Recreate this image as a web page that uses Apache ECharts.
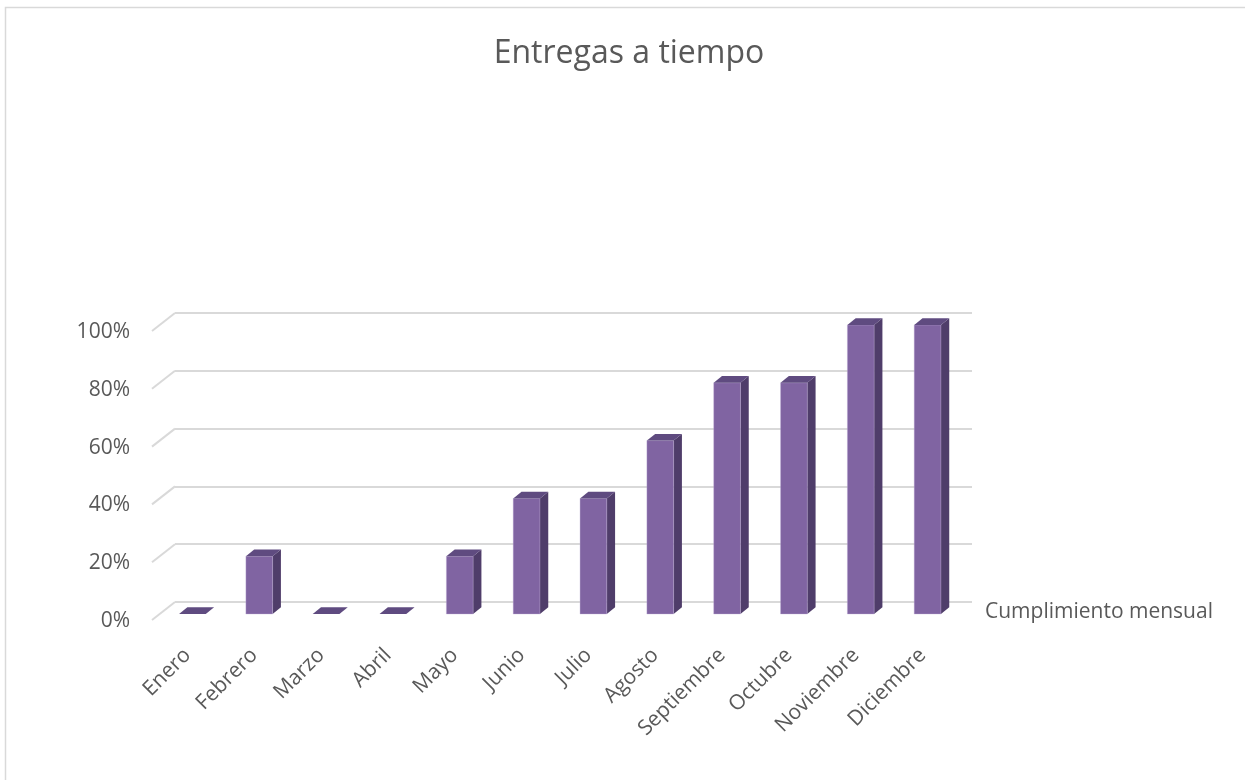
<!DOCTYPE html>
<html>
<head>
<meta charset="utf-8">
<script src="https://cdn.jsdelivr.net/npm/echarts@6/dist/echarts.min.js"></script>
<style>
  html, body { margin: 0; padding: 0; background: #ffffff; }
  #chart { width: 1245px; height: 780px; }
</style>
</head>
<body>
<div id="chart"></div>
<script>
// Monthly on-time delivery rate (%)
const months = ['Enero', 'Febrero', 'Marzo', 'Abril', 'Mayo', 'Junio', 'Julio',
                'Agosto', 'Septiembre', 'Octubre', 'Noviembre', 'Diciembre'];
const cumplimiento = [0, 20, 0, 0, 20, 40, 40, 60, 80, 80, 100, 100];
const yTicks = [0, 20, 40, 60, 80, 100];
const seriesName = 'Cumplimiento mensual';
const chartTitle = 'Entregas a tiempo';

const FONT = 'Open Sans';
const TEXT = '#595959';
const GRID_LINE = '#d9d9d9';
const FRONT = '#8064a2';
const SIDE = '#4f3d6a';
const TOP = '#5f4b80';
// depth of the 3D box and floor
const DEPTH_X = 8.3, DEPTH_Y = 6.7;
const FLOOR_X = -23, FLOOR_Y = 18;

const chart = echarts.init(document.getElementById('chart'), null, { renderer: 'canvas' });

function renderBox(params, api) {
  const i = api.value(0);
  const v = api.value(1);
  const top = api.coord([i, v]);
  const base = api.coord([i, 0]);
  const w = api.size([1, 0])[0] * 0.4;
  const x0 = top[0] - w / 2, x1 = top[0] + w / 2;
  const yt = top[1], yb = base[1];
  const children = [];
  if (yb - yt > 0.5) {
    children.push({
      type: 'polygon',
      shape: { points: [[x1, yt], [x1 + DEPTH_X, yt - DEPTH_Y], [x1 + DEPTH_X, yb - DEPTH_Y], [x1, yb]] },
      style: { fill: SIDE }
    });
    children.push({
      type: 'rect',
      shape: { x: x0, y: yt, width: w, height: yb - yt },
      style: { fill: FRONT, stroke: 'rgba(190,175,215,0.6)', lineWidth: 0.6 }
    });
  }
  children.push({
    type: 'polygon',
    shape: { points: [[x0, yt], [x0 + DEPTH_X, yt - DEPTH_Y], [x1 + DEPTH_X, yt - DEPTH_Y], [x1, yt]] },
    style: { fill: TOP }
  });
  return { type: 'group', children };
}

function renderFloorEdge(params, api) {
  const v = api.value(0);
  const p = api.coord([0, v]);
  const half = api.size([1, 0])[0] / 2;
  const x = p[0] - half, y = p[1];
  return {
    type: 'line',
    shape: { x1: x, y1: y, x2: x + FLOOR_X, y2: y + FLOOR_Y },
    style: { stroke: GRID_LINE, lineWidth: 2 }
  };
}

const option = {
  backgroundColor: '#ffffff',
  animation: false,
  title: {
    text: chartTitle,
    left: 624, top: 33, textAlign: 'center',
    textStyle: { fontFamily: FONT, fontSize: 32, fontWeight: 'normal', color: TEXT }
  },
  graphic: [
    {
      type: 'rect', silent: true, z: -10,
      shape: { x: 5.5, y: 7.5, width: 1300, height: 900 },
      style: { fill: 'none', stroke: '#d9d9d9', lineWidth: 1.5 }
    },
    {
      type: 'text', left: 985, top: 602,
      style: { text: seriesName, fontFamily: FONT, fontSize: 21, fill: TEXT }
    }
  ],
  grid: [
    // back wall
    { left: 175, width: 797, top: 313, height: 289 },
    // front of the boxes
    { left: 159, width: 802, top: 325, height: 289 },
    // front edge of the floor, carries the value labels
    { left: 152, width: 802, top: 332, height: 289 }
  ],
  xAxis: [
    { gridIndex: 0, type: 'category', data: months, show: false },
    {
      gridIndex: 1, type: 'category', data: months,
      axisLine: { show: false }, axisTick: { show: false },
      axisLabel: {
        rotate: 45, margin: 33, interval: 0, padding: [0, 7, 0, 0],
        fontFamily: FONT, fontSize: 21, color: TEXT
      }
    },
    { gridIndex: 2, type: 'category', data: months, show: false }
  ],
  yAxis: [
    {
      gridIndex: 0, type: 'value', min: 0, max: 100, interval: 20,
      axisLine: { show: false }, axisTick: { show: false }, axisLabel: { show: false },
      splitLine: { lineStyle: { color: GRID_LINE, width: 2 } }
    },
    {
      gridIndex: 1, type: 'value', min: 0, max: 100, interval: 20, show: false,
      splitLine: { show: false }
    },
    {
      gridIndex: 2, type: 'value', min: 0, max: 100, interval: 20,
      axisLine: { show: false }, axisTick: { show: false }, splitLine: { show: false },
      axisLabel: { margin: 22, fontFamily: FONT, fontSize: 21, color: TEXT, formatter: '{value}%' }
    }
  ],
  series: [
    {
      type: 'custom', name: 'floor', xAxisIndex: 0, yAxisIndex: 0,
      data: yTicks.map(v => [v]), renderItem: renderFloorEdge, silent: true, z: 1
    },
    {
      type: 'custom', name: seriesName, xAxisIndex: 1, yAxisIndex: 1,
      data: cumplimiento.map((v, i) => [i, v]), renderItem: renderBox, z: 5,
      encode: { x: 0, y: 1 }
    }
  ]
};

chart.setOption(option);
</script>
</body>
</html>
